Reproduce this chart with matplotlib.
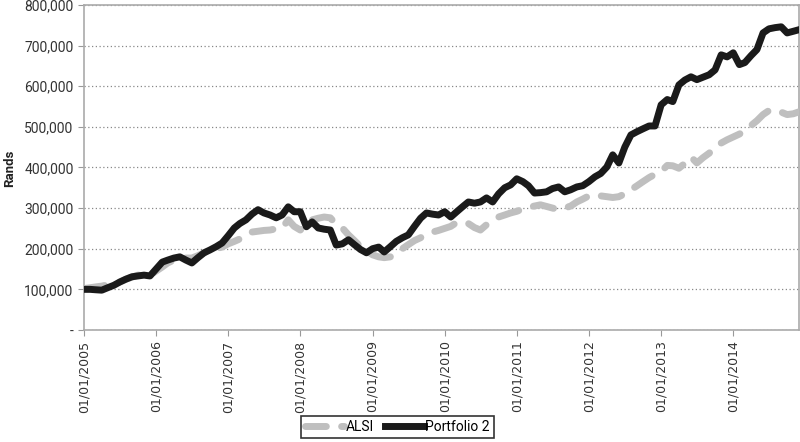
import numpy as np
import pandas as pd
import matplotlib
matplotlib.use("Agg")
import matplotlib.pyplot as plt
import matplotlib.dates as mdates
from matplotlib.ticker import FuncFormatter

dates = pd.date_range("2005-01-01", "2014-12-01", freq="MS")

# values in thousands of Rands, one per month
portfolio2 = [100, 100, 99, 98, 104, 110, 118, 125, 131, 133, 135, 133,
              150, 167, 172, 177, 180, 172, 165, 178, 190, 197, 205, 214,
              232, 251, 262, 271, 285, 296, 288, 283, 276, 283, 303, 291,
              291, 254, 266, 251, 248, 246, 209, 212, 222, 210, 198, 190,
              200, 204, 192, 205, 218, 227, 234, 255, 275, 288, 285, 283,
              291, 278, 290, 303, 315, 312, 315, 325, 315, 335, 350, 357,
              372, 365, 355, 337, 338, 340, 348, 352, 340, 345, 352, 355,
              365, 377, 385, 401, 431, 411, 450, 480, 488, 495, 502, 502,
              554, 567, 562, 603, 615, 623, 616, 622, 628, 640, 677, 672,
              682, 653, 658, 675, 690, 731, 741, 744, 746, 731, 735, 739]
alsi = [102, 104, 106, 108, 111, 114, 118, 125, 130, 135, 135, 135,
        145, 155, 165, 172, 177, 177, 177, 183, 190, 196, 200, 204,
        212, 218, 224, 232, 241, 243, 245, 246, 249, 251, 271, 255,
        246, 258, 271, 275, 278, 276, 260, 251, 234, 220, 205, 195,
        185, 180, 178, 180, 190, 200, 210, 220, 227, 235, 241, 245,
        250, 255, 264, 266, 262, 252, 246, 259, 268, 278, 283, 288,
        292, 298, 302, 305, 308, 304, 300, 296, 300, 305, 315, 322,
        330, 333, 330, 328, 326, 328, 335, 345, 355, 365, 375, 383,
        390, 405, 404, 398, 410, 426, 411, 424, 435, 448, 460, 468,
        475, 482, 490, 503, 515, 530, 540, 542, 536, 530, 532, 537]

portfolio2 = np.array(portfolio2) * 1000
alsi = np.array(alsi) * 1000

fig = plt.figure(figsize=(8, 4.42), dpi=100)
ax = fig.add_axes([0.105, 0.2534, 0.894, 0.7356])

ax.plot(dates, alsi, color="#bfbfbf", lw=5, ls=(0, (3, 2.2)),
        dash_capstyle="round", solid_capstyle="round", label="ALSI", zorder=3)
ax.plot(dates, portfolio2, color="#1a1a1a", lw=5, solid_joinstyle="round",
        label="Portfolio 2", zorder=4)

ax.set_ylim(0, 800000)
ax.set_xlim(dates[0], dates[-1])
ax.set_yticks(np.arange(0, 800001, 100000))
ax.yaxis.set_major_formatter(FuncFormatter(lambda v, p: "-" if v == 0 else "{:,.0f}".format(v)))
ax.set_xticks(pd.date_range("2005-01-01", "2014-01-01", freq="YS"))
ax.xaxis.set_major_formatter(mdates.DateFormatter("%d/%m/%Y"))
plt.setp(ax.get_xticklabels(), rotation=90, fontsize=9, family="DejaVu Sans", color="#333333")
plt.setp(ax.get_yticklabels(), fontsize=10, family="Roboto", color="#333333")
ax.tick_params(axis="both", length=4, color="#999999")
ax.grid(axis="y", ls=(0, (1, 2)), color="#888888", lw=0.9)
for s in ax.spines.values():
    s.set_color("#aaaaaa")
    s.set_linewidth(1.2)
fig.text(0.012, 0.62, "Rands", rotation=90, ha="center", va="center", fontsize=9.5,
         fontweight="bold", family="Roboto", color="#222222")

leg = fig.legend(loc="center", bbox_to_anchor=(0.497, 0.034), ncol=2, frameon=True,
                 fancybox=False, edgecolor="black", handlelength=2.8, columnspacing=0.8,
                 handletextpad=0.1, borderpad=0.3,
                 prop={"family": "Roboto", "size": 10})
leg.get_frame().set_linewidth(1.2)

fig.savefig("out.png", dpi=100)
